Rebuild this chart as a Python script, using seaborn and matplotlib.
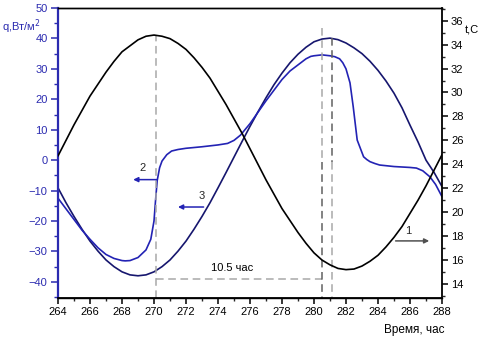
import numpy as np
import pandas as pd
import matplotlib
matplotlib.use("Agg")
import matplotlib.pyplot as plt
from matplotlib.ticker import MultipleLocator
import seaborn as sns

# Air temperature, curve 1 (right axis, deg C)
t1_hours = [264, 264.5, 265, 265.5, 266, 266.5, 267, 267.5, 268, 268.5, 269,
            269.5, 270, 270.5, 271, 271.5, 272, 272.5, 273, 273.5, 274, 274.5,
            275, 275.5, 276, 276.5, 277, 277.5, 278, 278.5, 279, 279.5, 280,
            280.5, 281, 281.5, 282, 282.5, 283, 283.5, 284, 284.5, 285, 285.5,
            286, 286.5, 287, 287.5, 288]
t1_temp = [24.7, 26.0, 27.3, 28.5, 29.7, 30.7, 31.7, 32.6, 33.4, 33.9, 34.4,
           34.7, 34.8, 34.7, 34.5, 34.1, 33.6, 32.9, 32.1, 31.2, 30.1, 29.0,
           27.8, 26.6, 25.3, 24.0, 22.7, 21.5, 20.3, 19.3, 18.3, 17.4, 16.6,
           16.0, 15.6, 15.3, 15.2, 15.25, 15.5, 15.9, 16.4, 17.1, 17.9, 18.8,
           19.9, 21.0, 22.2, 23.5, 24.8]

# Heat flux, curve 2 (left axis, W/m2)
q2_hours = [264, 264.5, 265, 265.5, 266, 266.5, 267, 267.5, 268, 268.2, 268.5,
            269, 269.5, 269.8, 270.0, 270.1, 270.2, 270.35, 270.5, 270.8,
            271.1, 271.5, 272, 273, 274, 274.6, 275, 275.4, 276, 277, 278,
            278.5, 279, 279.5, 279.8, 280, 280.5, 281, 281.3, 281.6, 281.8,
            282, 282.25, 282.45, 282.7, 283.1, 283.3, 283.5, 283.8, 284.1,
            285, 286, 286.4, 286.8, 287.25, 287.6, 288]
q2_flux = [-12.5, -16.0, -19.5, -23.0, -26.0, -28.8, -31.0, -32.3, -33.0,
           -33.1, -33.0, -32.0, -29.5, -26.0, -20.0, -13.0, -6.7, -2.5, -0.3,
           1.8, 3.0, 3.5, 3.9, 4.4, 5.0, 5.5, 6.5, 8.2, 12.0, 19.5, 26.5,
           29.3, 31.3, 33.3, 34.1, 34.3, 34.6, 34.3, 34.0, 33.3, 32.0, 30.0,
           25.4, 17.6, 6.6, 1.1, 0.2, -0.5, -1.1, -1.6, -2.1, -2.4, -2.6,
           -3.5, -5.5, -8.0, -12.0]

# Heat flux, curve 3 (left axis, W/m2)
q3_hours = [264, 264.5, 265, 265.5, 266, 266.5, 267, 267.5, 268, 268.5, 269,
            269.5, 270, 270.5, 271, 271.5, 272, 272.5, 273, 273.5, 274, 274.5,
            275, 275.5, 276, 276.5, 277, 277.5, 278, 278.5, 279, 279.5, 280,
            280.5, 281, 281.5, 282, 282.5, 283, 283.5, 284, 284.5, 285, 285.5,
            286, 286.5, 287, 287.5, 288]
q3_flux = [-9.1, -14.0, -18.5, -22.7, -26.6, -29.9, -32.8, -35.0, -36.7,
           -37.7, -38.0, -37.7, -36.7, -35.0, -32.8, -29.9, -26.6, -22.7,
           -18.5, -14.0, -9.1, -4.1, 1.0, 6.1, 11.1, 15.9, 20.5, 24.8, 28.6,
           32.0, 34.8, 37.1, 38.9, 39.8, 40.1, 39.6, 38.5, 36.9, 35.0, 32.5,
           29.5, 26.0, 22.0, 17.2, 11.5, 6.0, 0.0, -4.0, -8.7]

x_ticks = list(range(264, 289, 2))
q_ticks = [-40, -30, -20, -10, 0, 10, 20, 30, 40, 50]
t_ticks = list(range(14, 37, 2))

BLUE_AXIS = "#2b2bb0"
NAVY = "#16166e"
BLUE = "#2323b4"
FONT = "Liberation Sans"

sns.set_theme(style="white")
plt.rcParams["font.family"] = [FONT, "DejaVu Sans"]
plt.rcParams["font.size"] = 8

fig = plt.figure(figsize=(4.83, 3.38), dpi=100)
ax = fig.add_axes([58 / 483, 40 / 338, 384 / 483, 290 / 338])
ax2 = ax.twinx()

df2 = pd.DataFrame({"hour": q2_hours, "q": q2_flux})
df3 = pd.DataFrame({"hour": q3_hours, "q": q3_flux})
df1 = pd.DataFrame({"hour": t1_hours, "t": t1_temp})

sns.lineplot(data=df3, x="hour", y="q", ax=ax, color=NAVY, lw=1.2)
sns.lineplot(data=df2, x="hour", y="q", ax=ax, color=BLUE, lw=1.2)
sns.lineplot(data=df1, x="hour", y="t", ax=ax2, color="black", lw=1.2)

# Guide lines: 10.5 h lag between temperature peak and flux peak
light, dark = "#a8a8a8", "#606060"
dash = (0, (5, 3))
ax.plot([270.1, 270.1], [-45.3, 41.0], color=light, lw=1.1, ls=dash)
ax.plot([270.1, 280.5], [-39.0, -39.0], color=light, lw=1.1, ls=dash)
ax.plot([280.5, 280.5], [43.4, -0.6], color=light, lw=1.1, ls=dash)
ax.plot([280.5, 280.5], [-0.6, -45.3], color=dark, lw=1.1, ls=dash)
ax.plot([281.1, 281.1], [40.1, -0.6], color=dark, lw=1.1, ls=dash)
ax.plot([281.1, 281.1], [-0.6, -45.3], color=light, lw=1.1, ls=dash)
ax.text(274.9, -35.4, "10.5 час", ha="center", va="center", fontsize=8,
        color="black")

# Curve labels with arrows
arrow_kw = dict(arrowstyle="-|>", lw=1.1, mutation_scale=7,
                shrinkA=0, shrinkB=0)
ax.annotate("", xy=(270.1 - 1.4, -6.4), xytext=(270.2, -6.4),
            arrowprops=dict(color=BLUE, **arrow_kw))
ax.text(269.3, -2.6, "2", ha="center", va="center", fontsize=8)
ax.annotate("", xy=(271.5, -15.4), xytext=(273.1, -15.4),
            arrowprops=dict(color=BLUE, **arrow_kw))
ax.text(273.0, -11.9, "3", ha="center", va="center", fontsize=8)
ax2.annotate("", xy=(287.2, 17.6), xytext=(285.1, 17.6),
             arrowprops=dict(color="#505050", **arrow_kw))
ax2.text(285.9, 18.4, "1", ha="center", va="center", fontsize=8)

# Axes styling
ax.set_xticks(x_ticks)
ax.set_yticks(q_ticks)
ax2.set_yticks(t_ticks)
ax.xaxis.set_minor_locator(MultipleLocator(1))
ax.yaxis.set_minor_locator(MultipleLocator(5))
ax2.yaxis.set_minor_locator(MultipleLocator(1))
ax.set_xlim(264, 288)
ax.set_ylim(-45.3, 50)
ax2.set_ylim(12.83, 37.06)

ax.tick_params(axis="x", which="major", direction="out", length=4.5, width=1.1,
               colors="black", labelsize=8, pad=2, bottom=True)
ax.tick_params(axis="x", which="minor", direction="out", length=2.5, width=1.0,
               bottom=True)
ax.tick_params(axis="y", which="major", direction="out", length=5, width=1.1,
               colors=BLUE_AXIS, labelsize=8, pad=2.5, left=True)
ax.tick_params(axis="y", which="minor", direction="out", length=3, width=1.0,
               colors=BLUE_AXIS, left=True)
ax2.tick_params(axis="y", which="major", direction="out", length=4.5, width=1.1,
                colors="black", labelsize=8, pad=2, right=True)
ax2.tick_params(axis="y", which="minor", direction="out", length=2.5, width=1.0,
                right=True)

for a in (ax, ax2):
    a.set_xlabel("")
    a.set_ylabel("")
    for s in a.spines.values():
        s.set_color("black")
        s.set_linewidth(1.0)
ax.spines["left"].set_color(BLUE_AXIS)
ax.spines["left"].set_linewidth(1.6)
ax2.spines["left"].set_visible(False)
ax.spines["right"].set_visible(False)
ax2.spines["right"].set_linewidth(1.3)
ax.spines["bottom"].set_linewidth(1.3)
ax.grid(False)
ax2.grid(False)

fig.text(2 / 483, 1 - 27 / 338, "q,Вт/м$^2$", ha="left", va="center",
         fontsize=8, color=BLUE_AXIS)
fig.text(465 / 483, 1 - 30 / 338, "t,C", ha="left", va="center",
         fontsize=8, color="black")
fig.text(414 / 483, 1 - 330 / 338, "Время, час", ha="center", va="center",
         fontsize=8.5, color="black")

fig.savefig("out.png", dpi=100)
